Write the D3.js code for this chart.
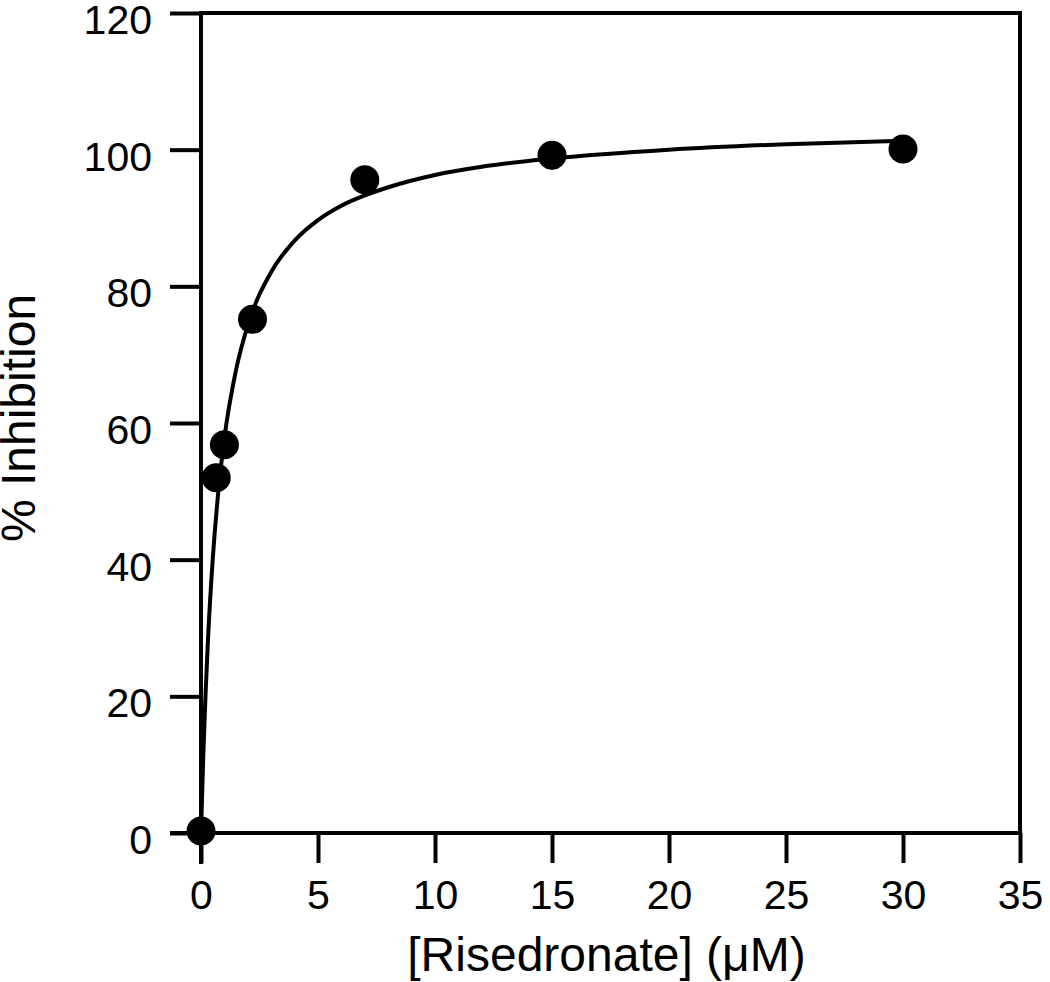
<!DOCTYPE html>
<html>
<head>
<meta charset="utf-8">
<script src="https://cdn.jsdelivr.net/npm/d3@7"></script>
<style>
  html, body { margin: 0; padding: 0; background: #fff; }
  svg { display: block; }
  text { font-family: "Liberation Sans", Arial, Helvetica, sans-serif; fill: #000; }
</style>
</head>
<body>
<svg id="chart" width="1050" height="982"></svg>
<script>
// Data points
const concentration = [0, 0.65, 1.0, 2.2, 7.0, 15.0, 30.0];
const inhibition    = [0.3, 52.0, 56.8, 75.2, 95.6, 99.2, 100.1];

// Fitted curve
const curveX = [0, 0.1, 0.2, 0.3, 0.5, 0.75, 1, 1.5, 2, 3, 4, 5, 6, 7, 8, 10, 12, 15, 20, 25, 30];
const curveY = [0, 11.6, 20.8, 28.4, 40.0, 50.3, 57.8, 67.8, 74.3, 82.1, 86.7, 89.7, 91.8, 93.3, 94.5, 96.3, 97.5, 98.7, 100.0, 100.8, 101.3];

// Tick labels
const xTicks = [0, 5, 10, 15, 20, 25, 30, 35];
const yTicks = [0, 20, 40, 60, 80, 100, 120];

const xTitle = "[Risedronate] (\u03BCM)";
const yTitle = "% Inhibition";

const svg = d3.select("#chart");
const pLeft = 201, pRight = 1020, pTop = 13, pBottom = 833;

const x = d3.scaleLinear().domain([0, 35]).range([pLeft, pRight]);
const y = d3.scaleLinear().domain([0, 120]).range([pBottom, pTop]);

const lw = 4;

// Box (top and right)
svg.append("line").attr("x1", pLeft).attr("x2", pRight).attr("y1", pTop).attr("y2", pTop)
  .attr("stroke", "#000").attr("stroke-width", lw);
svg.append("line").attr("x1", pRight).attr("x2", pRight).attr("y1", pTop - lw/2).attr("y2", pBottom)
  .attr("stroke", "#000").attr("stroke-width", lw);

// X axis
const xAxis = d3.axisBottom(x).tickValues(xTicks).tickSize(30).tickSizeOuter(0).tickPadding(10)
  .tickFormat(d3.format("d"));
const gx = svg.append("g").attr("transform", `translate(0,${pBottom})`).call(xAxis);
gx.select(".domain").attr("stroke-width", lw).attr("d", `M${pLeft - 31},0H${pRight + lw/2}`);
gx.selectAll(".tick line").attr("stroke-width", lw);
gx.selectAll(".tick text").attr("font-size", 41).attr("font-family", "Liberation Sans, Arial, sans-serif")
  .attr("dy", "0.71em").attr("y", 47);

// Y axis
const yAxis = d3.axisLeft(y).tickValues(yTicks).tickSize(31).tickSizeOuter(0).tickPadding(18)
  .tickFormat(d3.format("d"));
const gy = svg.append("g").attr("transform", `translate(${pLeft},0)`).call(yAxis);
gy.select(".domain").attr("stroke-width", lw).attr("d", `M0,${pBottom + 31}V${pTop - lw/2}`);
gy.selectAll(".tick line").attr("stroke-width", lw);
gy.selectAll(".tick text").attr("font-size", 41).attr("font-family", "Liberation Sans, Arial, sans-serif")
  .attr("dy", "0.5em");

// Curve
const line = d3.line().x((d, i) => x(curveX[i])).y((d, i) => y(curveY[i])).curve(d3.curveMonotoneX);
svg.append("path").datum(curveX).attr("d", line)
  .attr("fill", "none").attr("stroke", "#000").attr("stroke-width", 4);

// Points
svg.append("g").selectAll("circle").data(concentration).join("circle")
  .attr("cx", d => x(d)).attr("cy", (d, i) => y(inhibition[i])).attr("r", 14.5).attr("fill", "#000");

// Titles
svg.append("text").attr("x", (pLeft + pRight) / 2 - 4).attr("y", 971).attr("text-anchor", "middle")
  .attr("font-size", 48).text(xTitle);
svg.append("text").attr("transform", `translate(35,${(pTop + pBottom) / 2 - 5}) rotate(-90)`)
  .attr("text-anchor", "middle").attr("font-size", 48).text(yTitle);
</script>
</body>
</html>
